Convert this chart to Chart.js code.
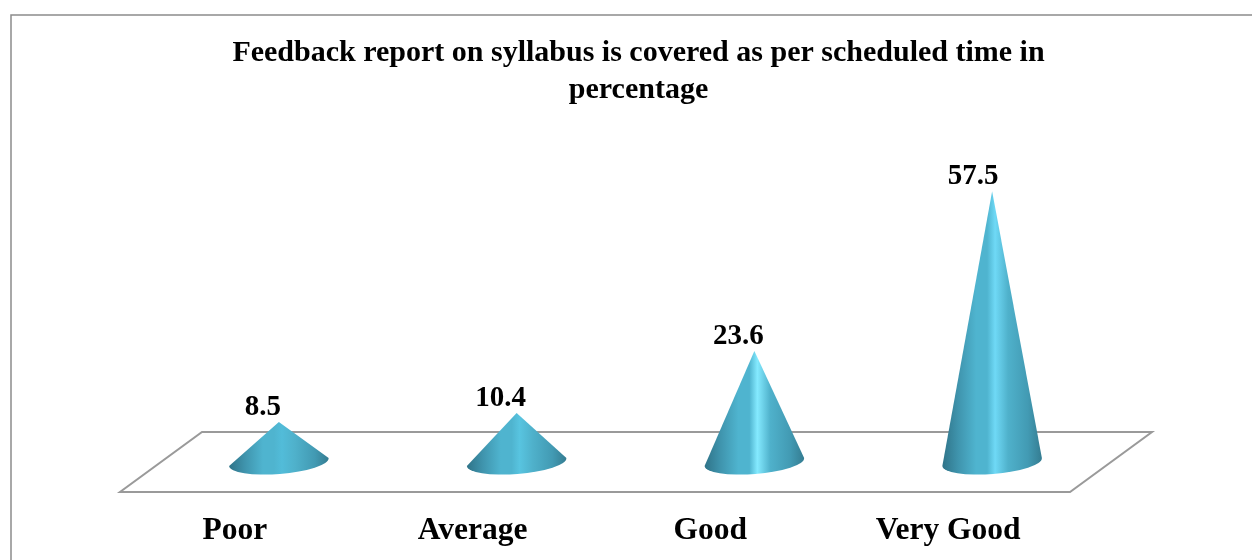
<!DOCTYPE html>
<html>
<head>
<meta charset="utf-8">
<style>html,body{margin:0;padding:0;background:#fff}canvas{display:block}</style>
<script src="https://cdn.jsdelivr.net/npm/chart.js@4"></script>
</head>
<body>
<canvas id="c" width="1252" height="560"></canvas>
<script>
const categories = ['Poor', 'Average', 'Good', 'Very Good'];
const percentages = [8.5, 10.4, 23.6, 57.5];
const titleLines = ['Feedback report on syllabus is covered as per scheduled time in', 'percentage'];
const coneHighlights = ['#52bcd9', '#58c4e0', '#84eaff', '#6fd9f6'];
const serif = '"Liberation Serif", "Times New Roman", serif';

const framePlugin = {
  id: 'frame',
  beforeDraw(chart) {
    const c = chart.ctx;
    c.save();
    c.fillStyle = '#fff';
    c.fillRect(0, 0, chart.width, chart.height);
    c.strokeStyle = '#8c8c8c';
    c.lineWidth = 1.5;
    c.beginPath();
    c.moveTo(11, chart.height);
    c.lineTo(11, 15);
    c.lineTo(chart.width, 15);
    c.stroke();
    c.restore();
  },
  afterLayout(chart) {
    chart.titleBlock.left += 3;
    chart.titleBlock.right += 3;
  }
};

const floorPlugin = {
  id: 'floor',
  beforeDatasetsDraw(chart) {
    const a = chart.chartArea, c = chart.ctx;
    c.save();
    c.strokeStyle = '#9a9a9a';
    c.lineWidth = 2;
    c.lineJoin = 'miter';
    c.beginPath();
    c.moveTo(a.left - 40, a.bottom + 30);
    c.lineTo(a.right - 41, a.bottom + 30);
    c.lineTo(a.right + 41, a.bottom - 30);
    c.lineTo(a.left + 42, a.bottom - 30);
    c.closePath();
    c.stroke();
    c.restore();
  }
};

const conePlugin = {
  id: 'cones',
  afterDatasetsDraw(chart) {
    const c = chart.ctx;
    const bars = chart.getDatasetMeta(0).data;
    bars.forEach((bar, i) => {
      const rx = bar.width / 2, ry = 12, rot = -4.5 * Math.PI / 180;
      const cx = bar.x, cy = bar.base, top = bar.y;
      const g = c.createLinearGradient(cx - rx, 0, cx + rx, 0);
      g.addColorStop(0, '#2f7388');
      g.addColorStop(0.16, '#3f94ad');
      g.addColorStop(0.34, '#4fb4cf');
      g.addColorStop(0.45, '#4fb4cf');
      g.addColorStop(0.53, coneHighlights[i]);
      g.addColorStop(0.66, '#4fb1cb');
      g.addColorStop(0.86, '#429ab3');
      g.addColorStop(1, '#347c91');
      c.save();
      c.fillStyle = g;
      c.beginPath();
      c.moveTo(cx, top);
      c.lineTo(cx - rx * Math.cos(rot), cy - rx * Math.sin(rot));
      c.ellipse(cx, cy, rx, ry, rot, Math.PI, 0, true);
      c.closePath();
      c.fill();
      c.fillStyle = '#000';
      c.font = 'bold 29px ' + serif;
      c.textAlign = 'center';
      c.textBaseline = 'alphabetic';
      c.fillText(String(percentages[i]), cx - (i === 3 ? 19 : 16), top - 7);
      c.restore();
    });
  }
};

new Chart(document.getElementById('c'), {
  type: 'bar',
  data: {
    labels: categories,
    datasets: [{
      data: percentages,
      backgroundColor: 'rgba(0,0,0,0)',
      borderWidth: 0,
      categoryPercentage: 1,
      barPercentage: 0.42
    }]
  },
  options: {
    responsive: false,
    animation: false,
    layout: { padding: { left: 160, right: 141, top: 0, bottom: 0 } },
    plugins: {
      legend: { display: false },
      tooltip: { enabled: false },
      title: {
        display: true,
        text: titleLines,
        color: '#000',
        font: { family: serif, size: 30, weight: 'bold', lineHeight: 1.26 },
        padding: { top: 34, bottom: 70 }
      }
    },
    scales: {
      x: {
        grid: { display: false, drawTicks: false },
        border: { display: false },
        afterFit(scale) { scale.height = 98; },
        ticks: {
          color: '#000',
          font: { family: serif, size: 31.5, weight: 'bold' },
          labelOffset: -44,
          padding: 50,
          maxRotation: 0
        }
      },
      y: {
        display: false,
        min: 0,
        max: 60
      }
    }
  },
  plugins: [framePlugin, floorPlugin, conePlugin]
});
</script>
</body>
</html>
